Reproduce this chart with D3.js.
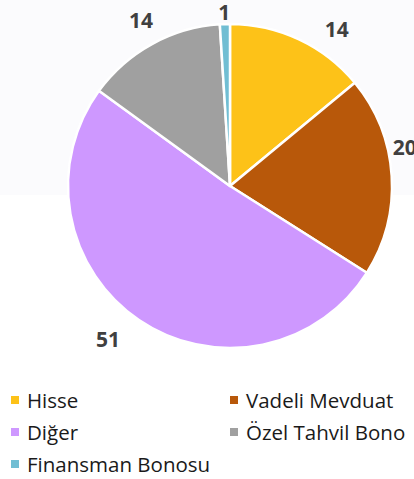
<!DOCTYPE html>
<html>
<head>
<meta charset="utf-8">
<script src="https://cdn.jsdelivr.net/npm/d3@7"></script>
<style>
    html, body { margin: 0; padding: 0; background: #fff; }
    svg { display: block; }
</style>
</head>
<body>
<div id="chart"></div>
<script>
// data
const categories = ['Hisse', 'Vadeli Mevduat', 'Diğer', 'Özel Tahvil Bono', 'Finansman Bonosu'];
const values = [14, 20, 51, 14, 1];
const colors = ['#FDC218', '#B8580A', '#CE98FF', '#A0A0A0', '#71BED3'];

const width = 414, height = 479;
const cx = 230, cy = 186, radius = 162;

const svg = d3.select('#chart').append('svg')
    .attr('width', width)
    .attr('height', height);

// faint band behind the upper part
svg.append('rect')
    .attr('x', 0).attr('y', 0)
    .attr('width', width).attr('height', 195)
    .attr('fill', '#fbfbfd');

const color = d3.scaleOrdinal().domain(categories).range(colors);

const pie = d3.pie().sort(null).value(d => d.value);
const arcs = pie(categories.map((c, i) => ({ name: c, value: values[i] })));

const arc = d3.arc().innerRadius(0).outerRadius(radius);
const labelArc = d3.arc().innerRadius(185).outerRadius(185);

const g = svg.append('g').attr('transform', 'translate(' + cx + ',' + cy + ')');

g.selectAll('path.slice')
    .data(arcs)
    .enter()
    .append('path')
    .attr('class', 'slice')
    .attr('d', arc)
    .attr('fill', d => color(d.data.name))
    .attr('stroke', '#fff')
    .attr('stroke-width', 2.5)
    .attr('stroke-linejoin', 'round');

// best-fit style nudges for the data labels
const nudge = [[28, 10], [-10, -27], [-18, 0], [0, -4], [0, 11]];

g.selectAll('text.lbl')
    .data(arcs)
    .enter()
    .append('text')
    .attr('class', 'lbl')
    .attr('transform', (d, i) => {
        const p = labelArc.centroid(d);
        return 'translate(' + (p[0] + nudge[i][0]) + ',' + (p[1] + nudge[i][1]) + ')';
    })
    .attr('text-anchor', 'middle')
    .attr('dominant-baseline', 'central')
    .style('font-family', '"Open Sans", sans-serif')
    .style('font-weight', 'bold')
    .style('font-size', '21px')
    .attr('fill', '#404040')
    .text(d => d.data.value);

// legend
const legend = svg.append('g').attr('class', 'legend');
const colX = [11, 230], rowY = [400, 432, 464];

const items = legend.selectAll('g.item')
    .data(categories)
    .enter()
    .append('g')
    .attr('class', 'item')
    .attr('transform', (d, i) => 'translate(' + colX[i % 2] + ',' + rowY[Math.floor(i / 2)] + ')');

items.append('rect')
    .attr('x', 0).attr('y', -4)
    .attr('width', 8).attr('height', 8)
    .attr('fill', d => color(d));

items.append('text')
    .attr('x', 16)
    .attr('y', 0)
    .attr('dominant-baseline', 'central')
    .style('font-family', '"Open Sans", sans-serif')
    .style('font-size', '20.5px')
    .attr('fill', '#1a1a1a')
    .text(d => d);
</script>
</body>
</html>
